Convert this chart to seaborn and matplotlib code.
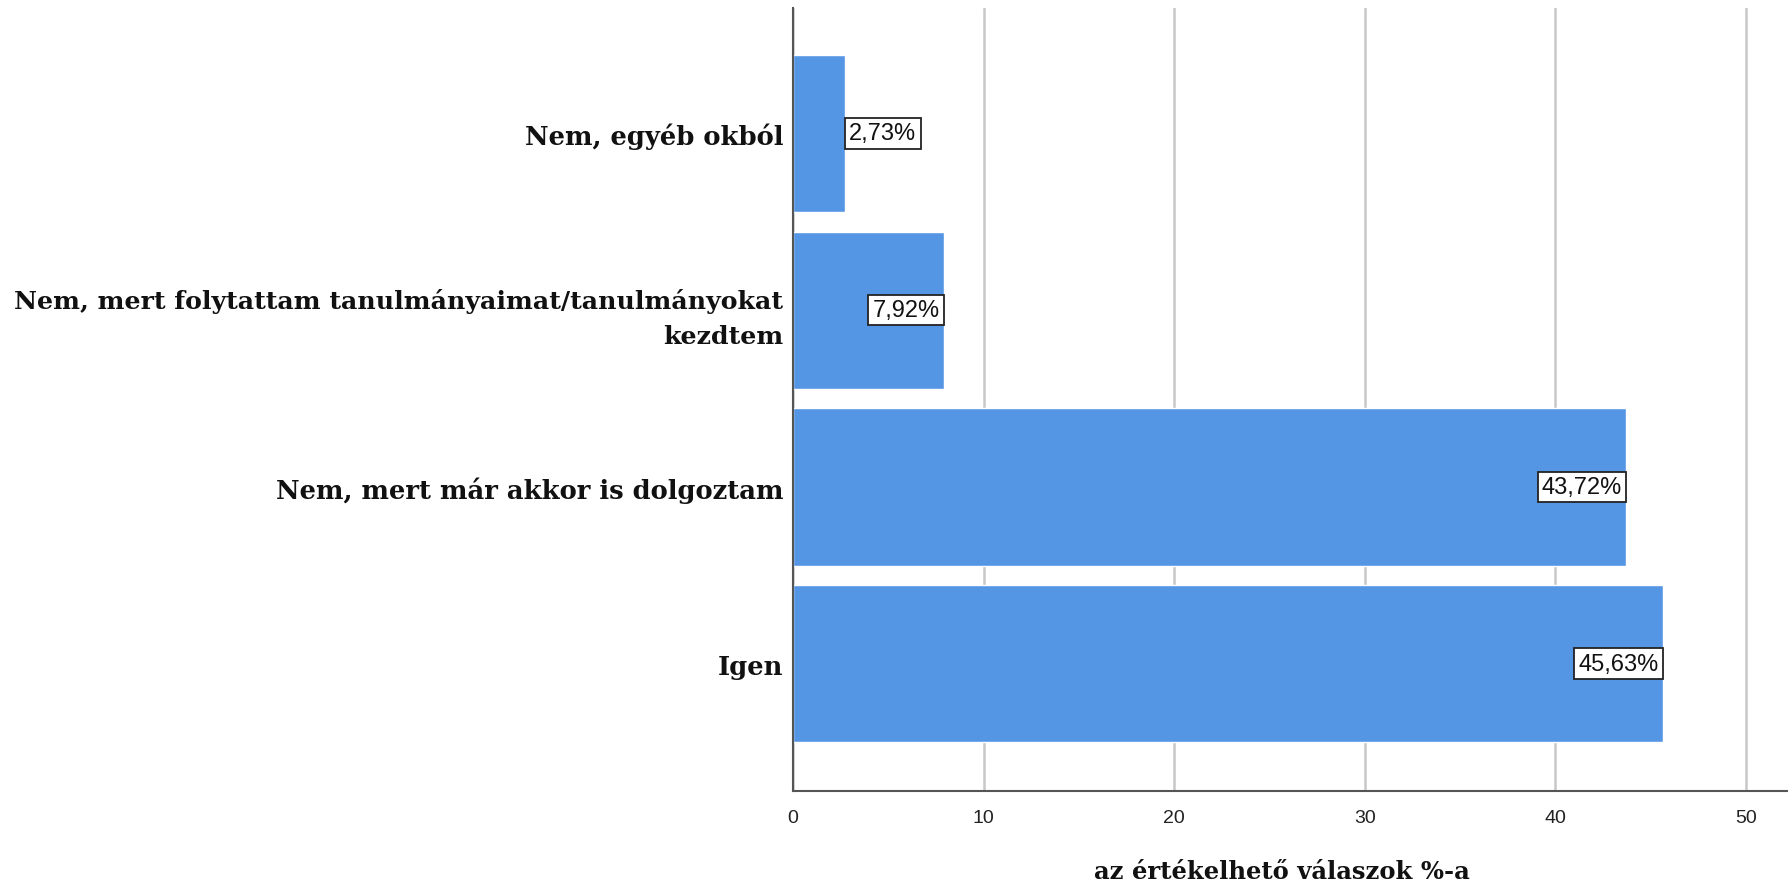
import matplotlib
matplotlib.use("Agg")
import matplotlib.pyplot as plt
import seaborn as sns
import pandas as pd

categories = [
    "Nem, egyéb okból",
    "Nem, mert folytattam tanulmányaimat/tanulmányokat\nkezdtem",
    "Nem, mert már akkor is dolgoztam",
    "Igen",
]
values = [2.73, 7.92, 43.72, 45.63]
value_labels = ["2,73%", "7,92%", "43,72%", "45,63%"]
x_ticks = [0, 10, 20, 30, 40, 50]
x_label = "az értékelhető válaszok %-a"

sns.set_theme(style="white")
plt.rcParams['font.family'] = ['Liberation Sans', 'DejaVu Sans']

df = pd.DataFrame({"cat": categories, "val": values})

fig = plt.figure(figsize=(17.88, 8.87), dpi=100)
ax = fig.add_axes([793 / 1788, 1 - 792 / 887, (1788 - 793) / 1788, (792 - 9) / 887])

ax.set_axisbelow(True)
for t in x_ticks:
    ax.axvline(t, color="#c8c8c8", lw=1.8, zorder=0)

sns.barplot(data=df, x="val", y="cat", orient="h", color="#5596e4",
            saturation=1, width=0.89, ax=ax, zorder=2)

ax.set_xlim(0, 52.2)
ax.set_ylim(3.72, -0.71)
ax.set_xticks(x_ticks)
ax.set_xticklabels([str(t) for t in x_ticks], fontsize=14, color="#222222")
ax.tick_params(axis="x", length=0, pad=13)
ax.tick_params(axis="y", length=0, pad=7)
for lbl in ax.get_yticklabels():
    txt = lbl.get_text()
    lbl.set_fontfamily(["DejaVu Serif"])
    lbl.set_fontweight("bold")
    lbl.set_fontsize(18.2 if "\n" in txt else 18.6)
    lbl.set_color("#111111")
    lbl.set_horizontalalignment("right")
    lbl.set_multialignment("right")
    lbl.set_linespacing(1.55)

ax.set_ylabel("")
ax.set_xlabel(x_label, fontsize=17.5, fontweight="bold",
              family=["DejaVu Serif"], color="#111111")
ax.xaxis.set_label_coords(0.491, -0.087)

for s in ["top", "right"]:
    ax.spines[s].set_visible(False)
ax.spines["left"].set_color("#555555")
ax.spines["bottom"].set_color("#555555")
ax.spines["left"].set_linewidth(1.5)
ax.spines["bottom"].set_linewidth(1.5)

for i, (v, lab) in enumerate(zip(values, value_labels)):
    if v > 5:
        ax.annotate(lab, xy=(v, i), xytext=(-3, 0), textcoords="offset points",
                    ha="right", va="center", fontsize=17, color="#111111", zorder=5,
                    bbox=dict(boxstyle="square,pad=0.18", fc="white", ec="#222222", lw=1.3))
    else:
        ax.annotate(lab, xy=(v, i), xytext=(3, 0), textcoords="offset points",
                    ha="left", va="center", fontsize=17, color="#111111", zorder=5,
                    bbox=dict(boxstyle="square,pad=0.18", fc="white", ec="#222222", lw=1.3))

fig.savefig("out.png", dpi=100)
